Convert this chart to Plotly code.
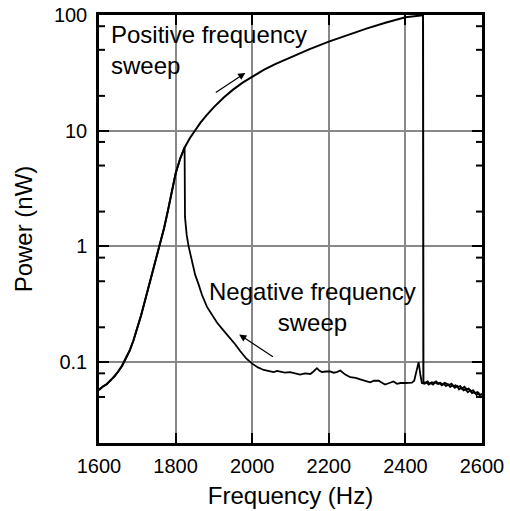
import math
import plotly.graph_objects as go

# ---------------- data ----------------
# Positive frequency sweep: rising branch, jump at ~2447 Hz, then noisy tail
pos_freq = [1600, 1610, 1620, 1630, 1640, 1650, 1660, 1670, 1680, 1690, 1700, 1710, 1720, 1730,
            1740, 1750, 1760, 1770, 1780, 1790, 1800, 1812, 1824, 1837, 1850, 1865, 1880, 1900,
            1925, 1950, 1975, 2000, 2030, 2060, 2100, 2150, 2200, 2250, 2300, 2350, 2400, 2446,
            2447, 2452, 2458, 2463, 2469, 2474, 2480, 2486, 2491, 2497, 2503, 2508, 2514, 2520,
            2526, 2531, 2537, 2543, 2548, 2554, 2560, 2565, 2571, 2577, 2582, 2588, 2594, 2600]
pos_power = [0.058, 0.0611, 0.0647, 0.0693, 0.0752, 0.0828, 0.0929, 0.1067, 0.1259, 0.1538, 0.1936, 0.254, 0.339, 0.452,
             0.603, 0.804, 1.072, 1.445, 2.04, 3.02, 4.27, 5.75, 7.2, 8.6, 10.0, 11.75, 13.5, 16.0,
             19.3, 22.65, 26.0, 29.4, 33.5, 37.6, 43.2, 50.7, 58.9, 67.6, 76.7, 86.1, 95.5, 99.5,
             0.067, 0.066, 0.068, 0.065, 0.067, 0.066, 0.068, 0.065, 0.066, 0.064, 0.066, 0.065, 0.063, 0.065,
             0.062, 0.063, 0.061, 0.062, 0.059, 0.061, 0.058, 0.059, 0.056, 0.057, 0.054, 0.055, 0.052, 0.053]

# Negative frequency sweep (listed in ascending frequency): drops at ~1824 Hz
neg_freq = [1600, 1610, 1620, 1630, 1640, 1650, 1660, 1670, 1680, 1690, 1700, 1710, 1720, 1730,
            1740, 1750, 1760, 1770, 1780, 1790, 1800, 1812, 1823.5, 1824.5, 1829, 1834, 1843, 1851,
            1860, 1869, 1882, 1895, 1908, 1921, 1938, 1956, 1969, 1985, 2000, 2015, 2030, 2045,
            2056, 2065, 2073, 2085, 2099, 2112, 2125, 2138, 2152, 2160, 2169, 2176, 2182, 2192,
            2204, 2212, 2221, 2230, 2243, 2256, 2270, 2282, 2295, 2308, 2318, 2330, 2340, 2347,
            2358, 2369, 2378, 2387, 2400, 2417, 2423, 2429, 2434.5, 2439, 2443, 2450, 2455, 2461,
            2466, 2472, 2478, 2483, 2489, 2495, 2500, 2506, 2512, 2517, 2523, 2529, 2535, 2540,
            2546, 2552, 2557, 2563, 2569, 2574, 2580, 2586, 2591, 2596, 2600]
neg_power = [0.057, 0.0618, 0.064, 0.070, 0.0745, 0.0835, 0.0922, 0.1075, 0.125, 0.1545, 0.1936, 0.254, 0.339, 0.452,
             0.603, 0.804, 1.072, 1.445, 2.04, 3.02, 4.27, 5.75, 7.2, 1.8, 1.25, 1.0, 0.72, 0.57,
             0.47, 0.38, 0.30, 0.254, 0.22, 0.195, 0.168, 0.142, 0.124, 0.107, 0.097, 0.090, 0.0855, 0.083,
             0.082, 0.084, 0.083, 0.081, 0.082, 0.080, 0.078, 0.080, 0.079, 0.083, 0.0887, 0.084, 0.082, 0.083,
             0.083, 0.081, 0.082, 0.0846, 0.078, 0.074, 0.073, 0.071, 0.069, 0.067, 0.069, 0.069, 0.066, 0.064,
             0.066, 0.068, 0.065, 0.066, 0.066, 0.0665, 0.069, 0.082, 0.100, 0.078, 0.066, 0.065, 0.067, 0.064,
             0.066, 0.064, 0.067, 0.065, 0.066, 0.063, 0.065, 0.062, 0.064, 0.061, 0.063, 0.060, 0.062, 0.058,
             0.060, 0.057, 0.058, 0.055, 0.057, 0.054, 0.055, 0.052, 0.054, 0.050, 0.051]

x_ticks = [1600, 1800, 2000, 2200, 2400, 2600]
y_ticks = [0.1, 1, 10, 100]
y_tick_text = ["0.1", "1", "10", "100"]
y_minor = [0.05, 0.08, 0.2, 0.5, 0.8, 2, 5, 8, 20, 50, 80]

FONT = "Liberation Sans, Arial, sans-serif"
L = math.log10

FIG_W, FIG_H = 510, 511
M_L, M_R, M_T, M_B = 99, 28, 15, 68
X_RANGE = [1600, 2600]

fig = go.Figure()
fig.add_trace(go.Scatter(x=pos_freq, y=pos_power, mode="lines",
                         line=dict(color="black", width=2), showlegend=False, hoverinfo="skip"))
fig.add_trace(go.Scatter(x=neg_freq, y=neg_power, mode="lines",
                         line=dict(color="black", width=1.8), showlegend=False, hoverinfo="skip"))

# minor y ticks (inside, on both left and right axes), drawn as short segments
plot_w = FIG_W - M_L - M_R
tick_len_data = 6.0 / plot_w * (X_RANGE[1] - X_RANGE[0])
mx, my = [], []
for v in y_minor:
    mx += [X_RANGE[0], X_RANGE[0] + tick_len_data, None, X_RANGE[1] - tick_len_data, X_RANGE[1], None]
    my += [v, v, None, v, v, None]
fig.add_trace(go.Scatter(x=mx, y=my, mode="lines", line=dict(color="black", width=2),
                         showlegend=False, hoverinfo="skip", connectgaps=False))

anns = [
    dict(x=1627, y=L(50), xref="x", yref="y", text="Positive frequency<br>sweep",
         showarrow=False, xanchor="left", yanchor="middle", align="left",
         font=dict(family=FONT, size=24, color="black")),
    dict(x=2158, y=L(0.30), xref="x", yref="y", text="Negative frequency<br>sweep",
         showarrow=False, xanchor="center", yanchor="middle", align="center",
         font=dict(family=FONT, size=24, color="black")),
    dict(x=1982, y=L(31.6), ax=1901, ay=L(21), xref="x", yref="y", axref="x", ayref="y",
         text="", showarrow=True, arrowhead=2, arrowsize=1.2, arrowwidth=1.2, arrowcolor="black"),
    dict(x=1966, y=L(0.173), ax=2058, ay=L(0.109), xref="x", yref="y", axref="x", ayref="y",
         text="", showarrow=True, arrowhead=2, arrowsize=1.2, arrowwidth=1.2, arrowcolor="black"),
]

fig.update_layout(
    width=FIG_W, height=FIG_H,
    margin=dict(l=M_L, r=M_R, t=M_T, b=M_B),
    paper_bgcolor="white", plot_bgcolor="white",
    font=dict(family=FONT, color="black"),
    annotations=anns,
)
fig.update_xaxes(
    range=X_RANGE, tickvals=x_ticks, ticks="inside", ticklen=10, tickwidth=2,
    tickcolor="black", showline=True, linewidth=2.5, linecolor="black", mirror="ticks",
    showgrid=True, gridcolor="#888888", gridwidth=2.2, zeroline=False, automargin=False,
    tickfont=dict(family=FONT, size=20, color="black"), ticklabelstandoff=3,
    title=dict(text="Frequency (Hz)", font=dict(family=FONT, size=24, color="black"), standoff=12),
)
fig.update_yaxes(
    type="log", range=[L(0.02), 2.0], tickvals=y_ticks, ticktext=y_tick_text,
    ticks="inside", ticklen=10, tickwidth=2, tickcolor="black",
    showline=True, linewidth=2.5, linecolor="black", mirror="ticks",
    showgrid=True, gridcolor="#888888", gridwidth=2.2, zeroline=False, automargin=False,
    tickfont=dict(family=FONT, size=20, color="black"), ticklabelstandoff=5,
    title=dict(text="Power (nW)", font=dict(family=FONT, size=24, color="black"), standoff=15),
)

# remove the default 8 px page margin so the figure sits at the window's top-left corner
fig.write_html("out.html", config={"displayModeBar": False},
               post_script="document.body.style.margin='0px';")
